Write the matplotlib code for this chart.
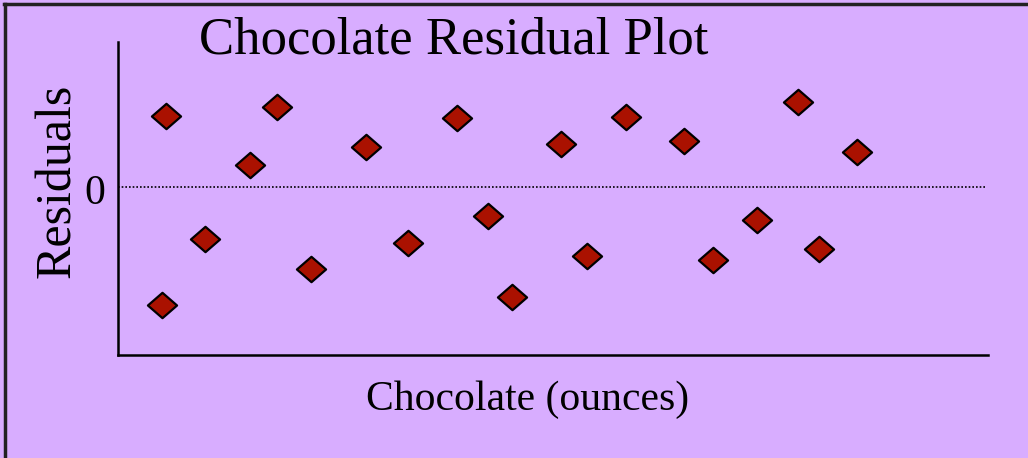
import matplotlib.pyplot as plt
from matplotlib.path import Path
from matplotlib.lines import Line2D

# chocolate amount (ounces) and residuals
ounces = [1.52, 1.66, 3.0, 4.55, 5.48, 6.66, 8.55, 10.0, 11.69, 12.76,
          13.59, 15.28, 16.17, 17.52, 19.52, 20.52, 22.03, 23.45, 24.17, 25.48]
residuals = [-2.36, 1.42, -1.04, 0.44, 1.6, -1.64, 0.8, -1.12, 1.38, -0.58,
             -2.2, 0.86, -1.38, 1.4, 0.92, -1.46, -0.66, 1.7, -1.24, 0.7]

bg = '#D8ADFF'
plt.rcParams['font.family'] = ['Liberation Serif', 'DejaVu Serif']

fig = plt.figure(figsize=(10.28, 4.58), dpi=100)
fig.patch.set_facecolor(bg)

ax = fig.add_axes([0.1148, 0.2249, 0.8462, 0.6831])
ax.set_facecolor(bg)
ax.set_xlim(0, 30)
ax.set_ylim(-3.36, 2.9)

# flattened diamond marker
diamond = Path([(-1, 0), (0, 0.87), (1, 0), (0, -0.87), (-1, 0)],
               [Path.MOVETO, Path.LINETO, Path.LINETO, Path.LINETO, Path.CLOSEPOLY])
ax.plot(ounces, residuals, linestyle='none', marker=diamond, markersize=21,
        markerfacecolor='#AA1100', markeredgecolor='black', markeredgewidth=1.6)

ax.plot([0, 29.9], [0, 0], color='black', linestyle=(0, (1, 1.2)), linewidth=1.2)

for s in ['top', 'right']:
    ax.spines[s].set_visible(False)
ax.spines['left'].set_linewidth(1.8)
ax.spines['bottom'].set_linewidth(1.8)
ax.set_xticks([])
ax.set_yticks([])

fig.text(0.0924, 0.577, '0', fontsize=30, ha='center', va='center')
fig.text(0.441, 0.912, 'Chocolate Residual Plot', fontsize=38, ha='center', va='center')
fig.text(0.056, 0.605, 'Residuals', fontsize=36, rotation=90, ha='center', va='center')
fig.text(0.5136, 0.127, 'Chocolate (ounces)', fontsize=30, ha='center', va='center')

# border on the top and left edges
fig.add_artist(Line2D([0.004, 1.0], [0.991, 0.991], color='#222222', linewidth=2.5))
fig.add_artist(Line2D([0.0045, 0.0045], [0.0, 0.991], color='#222222', linewidth=2.5))

fig.savefig('out.png', dpi=100, facecolor=bg)
